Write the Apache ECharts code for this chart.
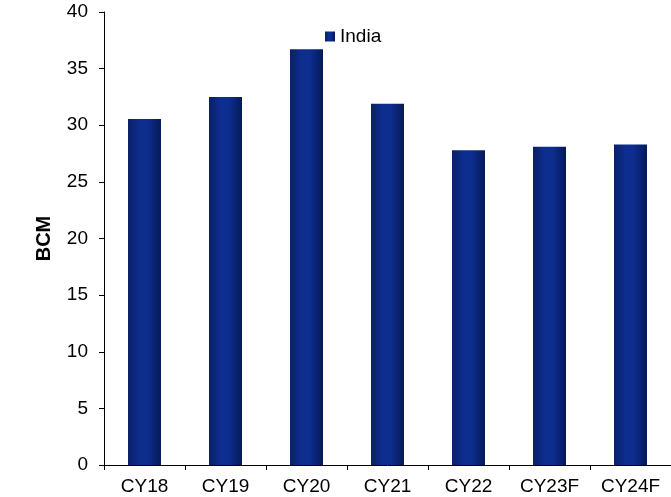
<!DOCTYPE html>
<html>
<head>
<meta charset="utf-8">
<style>
  html, body { margin: 0; padding: 0; background: #ffffff; }
  #chart { width: 671px; height: 497px; }
</style>
<script src="https://cdn.jsdelivr.net/npm/echarts@6/dist/echarts.min.js"></script>
</head>
<body>
<div id="chart"></div>
<script>
// Annual volumes in BCM, India
const categories = ['CY18', 'CY19', 'CY20', 'CY21', 'CY22', 'CY23F', 'CY24F'];
const indiaValues = [30.55, 32.5, 36.7, 31.9, 27.8, 28.1, 28.3];
const yTicks = { min: 0, max: 40, interval: 5 };

const chart = echarts.init(document.getElementById('chart'));

// Bars shaded darker at the edges, lighter toward the middle
const barFill = new echarts.graphic.LinearGradient(0, 0, 1, 0, [
  { offset: 0, color: '#0a2066' },
  { offset: 0.35, color: '#0d2d8f' },
  { offset: 0.6, color: '#0d2d8f' },
  { offset: 1, color: '#061a56' }
]);

chart.setOption({
  animation: false,
  backgroundColor: '#ffffff',
  textStyle: { fontFamily: 'Liberation Sans, Arial, sans-serif' },
  legend: {
    data: ['India'],
    left: 320,
    top: 22,
    itemWidth: 10,
    itemHeight: 10,
    icon: 'rect',
    textStyle: { fontSize: 19, color: '#000000' }
  },
  grid: { left: 104, right: -1, top: 12, bottom: 32, containLabel: false },
  xAxis: {
    type: 'category',
    data: categories,
    boundaryGap: true,
    axisLine: { lineStyle: { color: '#000000', width: 1 } },
    axisTick: { show: true, length: 5, alignWithLabel: false, lineStyle: { color: '#000000' } },
    axisLabel: { color: '#000000', fontSize: 19, margin: 12 },
    splitLine: { show: false }
  },
  yAxis: {
    type: 'value',
    min: yTicks.min,
    max: yTicks.max,
    interval: yTicks.interval,
    name: 'BCM',
    nameLocation: 'middle',
    nameGap: 50,
    nameRotate: 90,
    nameTextStyle: { fontSize: 20, fontWeight: 'bold', color: '#000000' },
    axisLine: { show: true, lineStyle: { color: '#000000', width: 1 } },
    axisTick: { show: true, length: 5, lineStyle: { color: '#000000' } },
    axisLabel: { color: '#000000', fontSize: 19, margin: 16 },
    splitLine: { show: false }
  },
  series: [{
    name: 'India',
    type: 'bar',
    data: indiaValues,
    barWidth: 33,
    itemStyle: { color: barFill }
  }]
});
</script>
</body>
</html>
